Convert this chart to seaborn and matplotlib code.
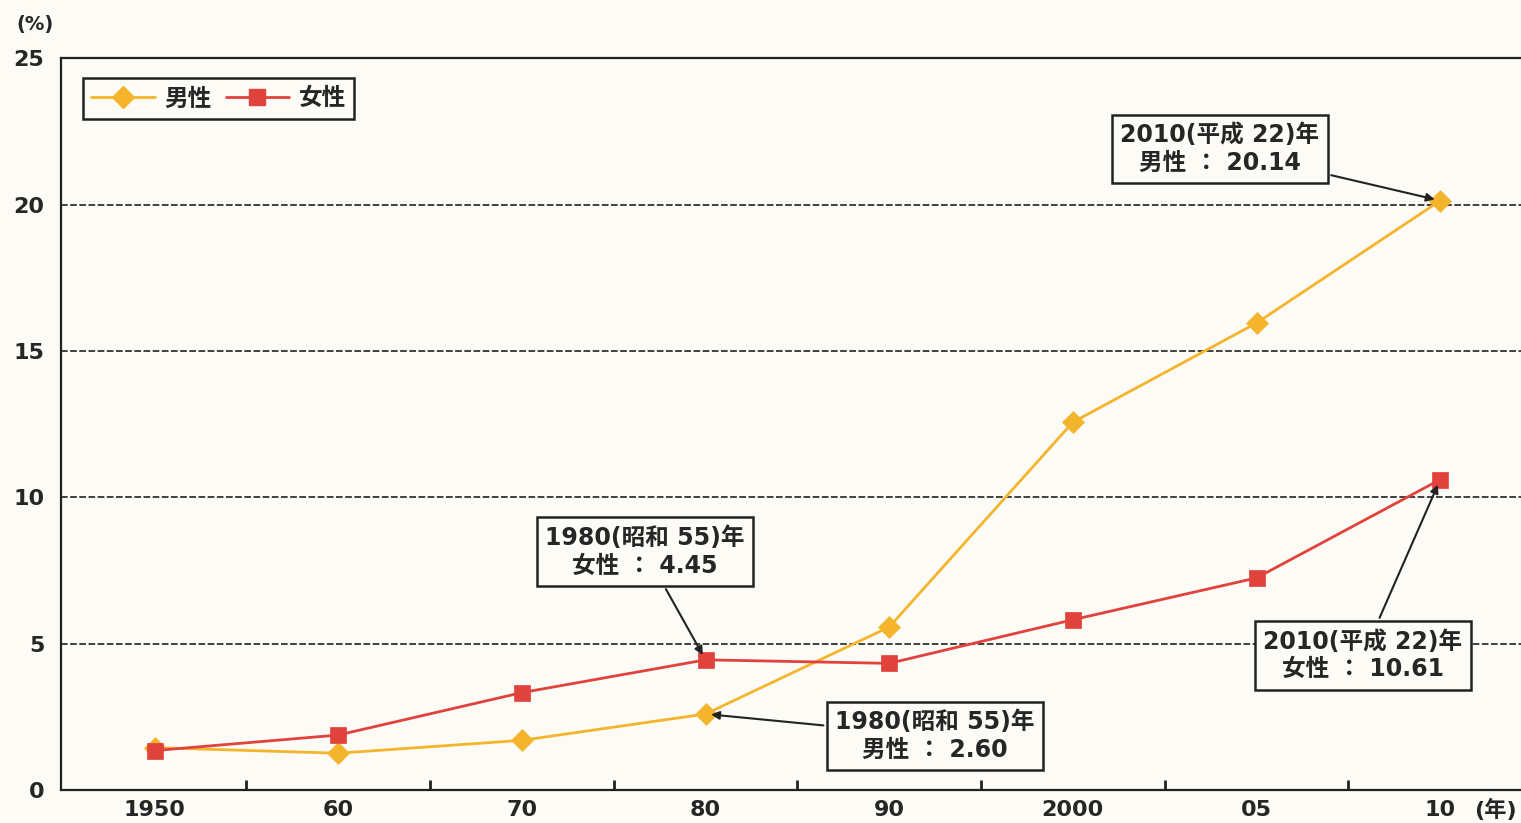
import numpy as np
import pandas as pd
import matplotlib
matplotlib.use("Agg")
import matplotlib.pyplot as plt
import seaborn as sns
from matplotlib.lines import Line2D

# data
years = ["1950", "60", "70", "80", "90", "2000", "05", "10"]
male = [1.45, 1.26, 1.70, 2.60, 5.57, 12.57, 15.96, 20.14]
female = [1.35, 1.88, 3.33, 4.45, 4.33, 5.82, 7.25, 10.61]
series_names = ["男性", "女性"]
colors = ["#f4b52c", "#e2423c"]

sns.set_theme(style="white")
# DejaVu for the wide digits, Noto CJK for the kanji
plt.rcParams["font.family"] = ["DejaVu Sans", "Noto Sans CJK JP"]
plt.rcParams["font.weight"] = "bold"

df = pd.DataFrame({
    "pos": list(range(len(years))) * 2,
    "value": male + female,
    "sex": [series_names[0]] * len(years) + [series_names[1]] * len(years),
})

bg = "#fcfbf6"
ink = "#222222"
fig = plt.figure(figsize=(15.21, 8.23), dpi=100, facecolor=bg)
ax = fig.add_axes([0.040, 0.040, 0.960, 0.889])
ax.set_facecolor(bg)

sns.lineplot(data=df, x="pos", y="value", hue="sex", style="sex",
             palette=colors, markers=["D", "s"], dashes=False,
             markersize=11, linewidth=2, markeredgewidth=0.5, ax=ax, legend=False)
for ln, c in zip(ax.lines, colors):
    ln.set_markeredgecolor(c)

ax.set_xlim(-0.51, 7.44)
ax.set_ylim(0, 25)
ax.set_xlabel("")
ax.set_ylabel("")

# y axis
ax.set_yticks([0, 5, 10, 15, 20, 25])
ax.tick_params(axis="y", length=0, pad=12, labelsize=16)
for y in [5, 10, 15, 20]:
    ax.axhline(y, color=ink, lw=1.2, ls=(0, (4, 1.5)), zorder=0)

# x axis: labels at categories, ticks at boundaries
ax.set_xticks(range(len(years)))
ax.set_xticklabels(years, fontsize=16)
ax.set_xticks(np.arange(0.5, len(years) - 1, 1), minor=True)
ax.tick_params(axis="x", which="major", bottom=False, length=0, pad=7)
ax.tick_params(axis="x", which="minor", bottom=True, direction="in",
               length=7, width=2, color=ink)

for s in ["left", "bottom", "top"]:
    ax.spines[s].set_color(ink)
    ax.spines[s].set_linewidth(1.6)
ax.spines["right"].set_visible(False)

fig.text(0.023, 0.970, "(%)", fontsize=14, ha="center", va="center")
fig.text(0.983, 0.016, "(年)", fontsize=16, ha="center", va="center")

# legend
handles = [
    Line2D([], [], color=colors[0], marker="D", markersize=11, lw=2, label=series_names[0]),
    Line2D([], [], color=colors[1], marker="s", markersize=11, lw=2, label=series_names[1]),
]
leg = ax.legend(handles=handles, loc="upper left", bbox_to_anchor=(0.015, 0.973),
                ncol=2, frameon=True, fancybox=False, fontsize=17,
                handlelength=2.7, columnspacing=0.6, handletextpad=0.4,
                borderpad=0.35, borderaxespad=0, edgecolor=ink, framealpha=1)
leg.get_frame().set_linewidth(1.8)
leg.get_frame().set_facecolor(bg)

# annotations
box = dict(boxstyle="square,pad=0.35", fc=bg, ec=ink, lw=1.8)
arrow = dict(arrowstyle="-|>", color=ink, lw=1.5, mutation_scale=12, shrinkB=4)

notes = [
    ("2010(平成 22)年\n男性 ： 20.14", 7, male[7], (5.80, 21.9)),
    ("1980(昭和 55)年\n女性 ： 4.45", 3, female[3], (2.67, 8.15)),
    ("1980(昭和 55)年\n男性 ： 2.60", 3, male[3], (4.25, 1.84)),
    ("2010(平成 22)年\n女性 ： 10.61", 7, female[7], (6.58, 4.6)),
]
for txt, xi, yv, xy_text in notes:
    ax.annotate(txt, xy=(xi, yv), xytext=xy_text, fontsize=17, ha="center", va="center",
                linespacing=1.2, bbox=box, arrowprops=arrow, zorder=5)

fig.savefig("out.png", dpi=100, facecolor=bg)
